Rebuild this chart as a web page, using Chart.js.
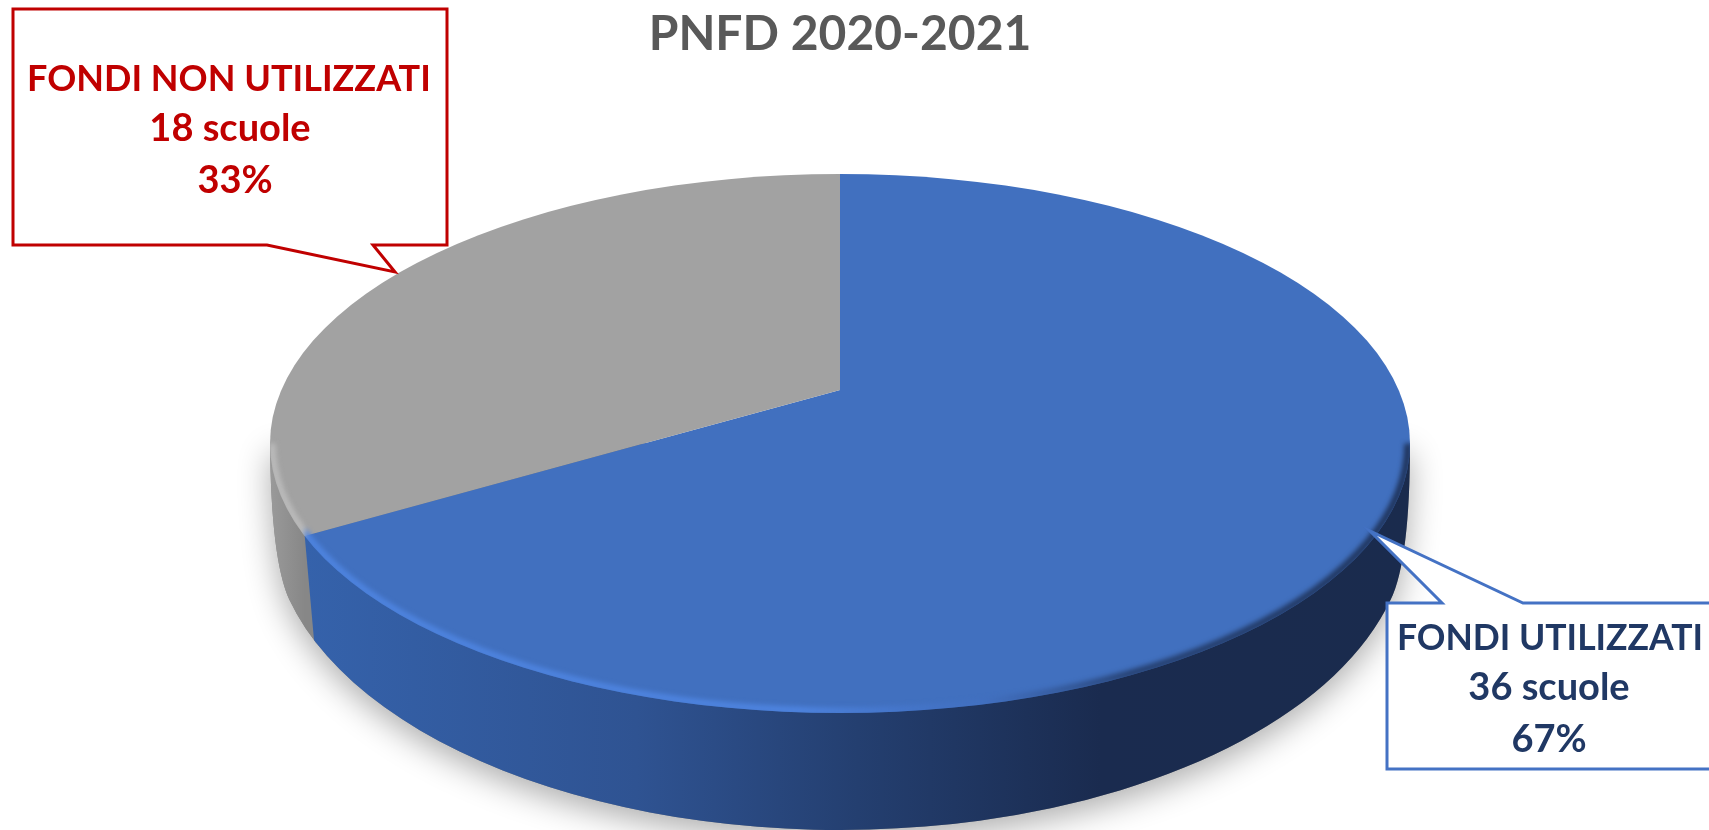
<!DOCTYPE html>
<html>
<head>
<meta charset="utf-8">
<title>PNFD 2020-2021</title>
<script src="https://cdn.jsdelivr.net/npm/chart.js@4"></script>
<style>
  html, body { margin: 0; padding: 0; background: #fff; overflow: hidden; }
  canvas { display: block; }
</style>
</head>
<body>
<canvas id="pieChart" width="1709" height="830"></canvas>
<script>
const chartTitle = 'PNFD 2020-2021';
const categories = ['FONDI UTILIZZATI', 'FONDI NON UTILIZZATI'];
const schools = [36, 18];
const percents = ['67%', '33%'];
const sliceColors = ['#4170bf', '#a2a2a2'];

// where the tilted disc sits on the page
const apex = { x: 840, y: 390 };
const top3d = { x: 840, y: 443.5, a: 570, b: 269.5 };
const bottom3d = { x: 840, y: 525, a: 568, b: 305 };
const squash = top3d.b / top3d.a;
const stretchRadius = 700;

function ellipsePath(ctx, e) {
    ctx.beginPath();
    ctx.ellipse(e.x, e.y, e.a, e.b, 0, 0, Math.PI * 2);
}

// where a slice edge leaving the apex meets the rim of the top face
function rimPoint(angle) {
    const ux = Math.cos(angle), uy = Math.sin(angle) * squash;
    const d = top3d.y - apex.y;
    const A = ux * ux / (top3d.a * top3d.a) + uy * uy / (top3d.b * top3d.b);
    const B = -2 * uy * d / (top3d.b * top3d.b);
    const C = d * d / (top3d.b * top3d.b) - 1;
    const t = (-B + Math.sqrt(B * B - 4 * A * C)) / (2 * A);
    return { x: apex.x + t * ux, y: apex.y + t * uy };
}

function wallPath(ctx) {
    const side = 0.248; // angle on the lower ellipse where the sides join it
    const dx = bottom3d.a * Math.cos(side), y = bottom3d.y + bottom3d.b * Math.sin(side);
    ctx.beginPath();
    ctx.moveTo(top3d.x - top3d.a, top3d.y);
    ctx.quadraticCurveTo(top3d.x - top3d.a + 1, 560, bottom3d.x - dx, y);
    ctx.ellipse(bottom3d.x, bottom3d.y, bottom3d.a, bottom3d.b, 0, Math.PI - side, side, true);
    ctx.quadraticCurveTo(top3d.x + top3d.a, 560, top3d.x + top3d.a, top3d.y);
    ctx.closePath();
}

function drawWall(chart) {
    const ctx = chart.ctx;
    const arcs = chart.getDatasetMeta(0).data;
    const rim = rimPoint(arcs[1].startAngle);

    // soft shadow under the disc
    ctx.save();
    ctx.shadowColor = 'rgba(0,0,0,0.32)';
    ctx.shadowBlur = 32;
    ctx.shadowOffsetY = 10;
    ctx.fillStyle = '#888';
    wallPath(ctx);
    ctx.fill();
    ctx.restore();

    const blue = ctx.createLinearGradient(rim.x, 0, top3d.x + top3d.a, 0);
    blue.addColorStop(0, '#3562ab');
    blue.addColorStop(0.3, '#2f5392');
    blue.addColorStop(0.5, '#243f70');
    blue.addColorStop(0.72, '#1a2b4f');
    blue.addColorStop(1, '#1a2b4d');
    const grey = ctx.createLinearGradient(top3d.x - top3d.a, 0, rim.x, 0);
    grey.addColorStop(0, '#9a9a9a');
    grey.addColorStop(1, '#878787');

    // grey part left of the slice edge, blue part right of it
    ctx.save();
    wallPath(ctx);
    ctx.clip();
    ctx.fillStyle = grey;
    ctx.fillRect(0, 0, rim.x + 12, 830);
    ctx.beginPath();
    ctx.moveTo(rim.x, rim.y);
    ctx.lineTo(rim.x + 10, rim.y + 112);
    ctx.lineTo(rim.x + 30, 830);
    ctx.lineTo(1709, 830);
    ctx.lineTo(1709, 0);
    ctx.lineTo(rim.x, 0);
    ctx.closePath();
    ctx.fillStyle = blue;
    ctx.fill();
    ctx.restore();
}

function drawBevel(chart) {
    const ctx = chart.ctx;
    const arcs = chart.getDatasetMeta(0).data;
    const rim = rimPoint(arcs[1].startAngle);
    const x0 = top3d.x - top3d.a, span = top3d.a * 2;
    const stop = x => (x - x0) / span;
    const g = ctx.createLinearGradient(x0, 0, x0 + span, 0);
    g.addColorStop(0, 'rgba(190,190,190,0.9)');
    g.addColorStop(stop(rim.x), 'rgba(190,190,190,0.9)');
    g.addColorStop(stop(rim.x + 1), 'rgba(78,132,224,1)');
    g.addColorStop(stop(800), 'rgba(78,132,224,1)');
    g.addColorStop(stop(980), 'rgba(66,112,195,0.5)');
    g.addColorStop(stop(1130), 'rgba(26,43,77,0.7)');
    g.addColorStop(1, 'rgba(26,43,77,0.9)');
    ctx.save();
    ellipsePath(ctx, top3d);
    ctx.clip();
    ctx.filter = 'blur(2.5px)';
    ctx.strokeStyle = g;
    ctx.lineWidth = 7;
    ctx.beginPath();
    ctx.ellipse(top3d.x, top3d.y, top3d.a - 2, top3d.b - 2, 0, 0, Math.PI);
    ctx.stroke();
    ctx.restore();
}

function drawCallout(ctx, points, stroke, textColor, lines) {
    ctx.save();
    ctx.beginPath();
    points.forEach((p, i) => i ? ctx.lineTo(p[0], p[1]) : ctx.moveTo(p[0], p[1]));
    ctx.closePath();
    ctx.fillStyle = '#fff';
    ctx.fill();
    ctx.strokeStyle = stroke;
    ctx.lineWidth = 3;
    ctx.lineJoin = 'miter';
    ctx.stroke();
    ctx.fillStyle = textColor;
    ctx.textAlign = 'center';
    ctx.textBaseline = 'alphabetic';
    lines.forEach(l => {
        ctx.font = 'bold ' + l.size + 'px Lato';
        ctx.fillText(l.text, l.x, l.y);
    });
    ctx.restore();
}

const disc3d = {
    id: 'disc3d',
    beforeDatasetsDraw(chart) {
        const ctx = chart.ctx;
        const arc = chart.getDatasetMeta(0).data[0];
        drawWall(chart);
        // squash the library's circle onto the tilted top face
        const s = stretchRadius / arc.outerRadius;
        ctx.save();
        ellipsePath(ctx, top3d);
        ctx.clip();
        ctx.translate(apex.x, apex.y);
        ctx.scale(s, s * squash);
        ctx.translate(-arc.x, -arc.y);
    },
    afterDatasetsDraw(chart) {
        const ctx = chart.ctx;
        ctx.restore();
        drawBevel(chart);
        drawCallout(ctx,
            [[13, 9], [447, 9], [447, 245], [373, 245], [395, 272], [267, 245], [13, 245]],
            '#c00000', '#c00000', [
                { text: categories[1], x: 229, y: 91, size: 36 },
                { text: schools[1] + ' scuole', x: 230, y: 141, size: 38 },
                { text: percents[1], x: 235, y: 193, size: 38 }
            ]);
        drawCallout(ctx,
            [[1387, 603], [1442, 603], [1370, 531], [1523, 603], [1715, 603], [1715, 769], [1387, 769]],
            '#4472c4', '#203864', [
                { text: categories[0], x: 1550, y: 650, size: 35.5 },
                { text: schools[0] + ' scuole', x: 1549, y: 700, size: 38 },
                { text: percents[0], x: 1549, y: 752, size: 38 }
            ]);
    }
};

new Chart(document.getElementById('pieChart').getContext('2d'), {
    type: 'pie',
    data: {
        labels: categories,
        datasets: [{
            data: schools,
            backgroundColor: sliceColors,
            borderWidth: 0,
            clip: false
        }]
    },
    options: {
        responsive: false,
        animation: false,
        layout: { padding: { right: 29 } },
        plugins: {
            legend: { display: false },
            tooltip: { enabled: false },
            title: {
                display: true,
                text: chartTitle,
                color: '#595959',
                font: { family: 'Lato', size: 48, weight: 'bold' },
                padding: { top: 6, bottom: 10 }
            }
        }
    },
    plugins: [disc3d]
});
</script>
</body>
</html>
